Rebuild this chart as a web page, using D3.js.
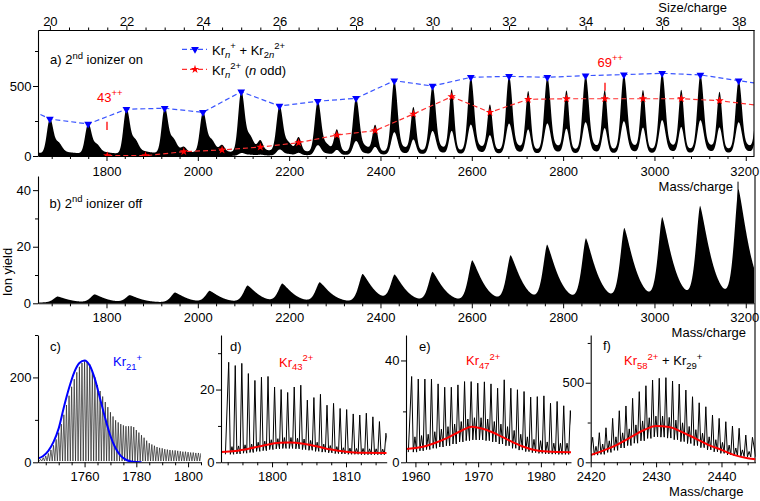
<!DOCTYPE html>
<html><head><meta charset="utf-8">
<script src="https://cdn.jsdelivr.net/npm/d3@7"></script>
<style>
body{margin:0;background:#fff;}
svg text{font-family:"Liberation Sans",Arial,Helvetica,sans-serif;}
</style></head><body>
<svg id="chart" width="760" height="501"></svg>
<script>
// ---------------- DATA ----------------
const KR = 83.8;
const sizeTicks = [20,22,24,26,28,30,32,34,36,38];
const massTicks = [1800,2000,2200,2400,2600,2800,3000,3200];
// panel a: Kr_n+ + Kr_2n^2+ (blue) and Kr_n^2+ n odd (red)
const blueN = [19,20,21,22,23,24,25,26,27,28,29,30,31,32,33,34,35,36,37,38,39];
const blueVals = [396,264,229,334,341,312,459,357,391,412,538,500,562,569,562,574,581,591,579,538,499];
const redN = [43,45,47,49,51,53,55,57,59,61,63,65,67,69,71,73,75,77];
const redVals = [2,2,31,43,64,95,150,181,300,424,312,405,409,409,409,409,395,362];
const baseMass = [1650,1900,2100,2300,2500,2700,2900,3100,3218];
const baseVals = [2,4,10,20,28,33,36,38,38];
const lowMass = [1650,2050,2200,2400,2600,3218];
const lowFrac = [0,0,0.15,0.3,0.4,0.45];
// panel b: 2nd ionizer off
const humpMass = [1693,1774,1851,1950,2026,2109,2185,2267,2361,2431,2514,2601,2685,2765,2850,2934,3017,3100,3184];
const humpVals = [2.1,2.8,2.5,3.5,4.0,5.9,6.5,7.0,10.0,9.4,10.6,14.7,16.4,20.0,22.3,25.9,29.6,33.5,39.4];
const bSpikeMass = [3183];
const bSpikeVals = [43];
// panel c: Kr21+
const cStart = 1742;
const cVals = [5,7,11,15,21,29,40,54,70,90,112,135,157,178,196,212,225,234,238,237,231,215,200,182,168,155,142,130,118,108,99,94,90,87,85,85,85,83,76,70,64,58,51,45,42,39,36,34,33,31,30,29,28,28,27,26,25,25,24,23,23,22,22,21];
const cLow = 3;
const cBlueMass = [1742,1744,1746,1748,1750,1752,1754,1756,1758,1760,1762,1764,1766,1768,1770,1772,1774,1776,1778,1780,1782];
const cBlueVals = [9,15,27,48,80,130,175,212,234,240,228,196,150,103,62,33,15,6,2,0.5,0];
// panel d: Kr43 2+
const dStart = 1794.14, dStep = 0.886;
const dTall = [27.5,26.6,27.2,24.4,22.5,23.4,23.6,20.7,20.0,19.2,20.7,21.2,17.1,17.8,18.7,15.7,16.2,14.8,14.5,13.3,13.0,13.5,12.5,11.2,8.0];
const dSmall = [4.3,4.5,4.8,5.0,5.5,5.8,6.2,6.5,6.8,6.8,6.6,6.4,6.0,5.5,5.0,4.6,4.3,4.0,3.9,3.8,3.8,3.7,3.7,3.6];
const dMin = [2.2,2.3,2.5,2.7,3.0,3.2,3.5,3.7,3.8,3.8,3.7,3.5,3.3,3.0,2.8,2.6,2.4,2.3,2.2,2.2,2.1,2.1,2.1,2.1];
const dRedMass = [1793.1,1795,1797,1799,1801,1802.5,1804,1806,1808,1810,1812,1815.5];
const dRedVals = [2.8,3.1,3.8,4.7,5.35,5.45,5.2,4.4,3.5,2.9,2.6,2.55];
// panel e: Kr47 2+
const eStart = 1959.4, eStep = 1.054;
const eTall = [33.7,32.7,32.7,32.7,30.8,29.5,29.5,30.4,31.7,31.7,31.1,31.6,30.8,29.1,32.4,29.1,28.5,27.8,25.6,25.8,26.1,23.2,23.9,22.2,20.3];
const eSmall = [10,10.5,11,12,13,14,15,16,17,17.5,17.5,17,16,15,14,12.5,11,10,9,8.5,8,7.5,7.5,7.5];
const eMin = [4,4.5,5,5.5,6,6.5,7.2,8,8.5,8.8,8.8,8.5,8,7.2,6.5,5.5,4.8,4.2,3.8,3.5,3.3,3.2,3.1,3.1];
const eRedMass = [1958.5,1961,1963,1965,1967,1969,1971,1973,1975,1977,1979,1981,1984.8];
const eRedVals = [5.2,6,7.5,9.5,12,14,13,11,8.5,6.3,4.8,4.2,3.9];
// panel f: Kr58 2+ + Kr29+
const fStart = 2420.3, fStep = 1.018;
const fTall = [157,186,217,276,324,354,402,444,481,517,528,532,511,492,454,412,374,349,297,276,255,228,214,171,157];
const fSmall = [100,115,135,160,185,210,235,260,280,290,290,282,265,248,225,205,183,160,142,125,108,90,78,68];
const fMin = [45,50,62,75,90,105,120,135,150,160,158,152,142,130,118,105,92,78,66,56,46,40,36,34];
const fRedMass = [2420,2422,2424,2426,2428,2430,2432,2434,2436,2438,2440,2442,2444,2445.2];
const fRedVals = [46,75,110,155,200,228,222,190,150,110,78,45,25,19];

// ---------------- DRAWING ----------------
const svg = d3.select('#chart');
const BLUE = '#0000ff', RED = '#ff0000';

// scales
const xA = d3.scaleLinear([1650,3218],[38,754]);
const sA = d3.scaleLinear([1650/KR,3218/KR],[38,754]);
const yA = d3.scaleLinear([0,900],[156,30]);
const yB = d3.scaleLinear([0,45],[303.3,176]);
const xC = d3.scaleLinear([1742,1805],[38,201]);
const yC = d3.scaleLinear([0,300],[462.3,335]);
const xD = d3.scaleLinear([1793.1,1815.5],[221,386.7]);
const yD = d3.scaleLinear([0,35],[462.3,335]);
const xE = d3.scaleLinear([1958.5,1984.8],[406,571]);
const yE = d3.scaleLinear([0,50],[462.3,335]);
const xF = d3.scaleLinear([2420,2445.2],[590.7,755.5]);
const yF = d3.scaleLinear([0,800],[462.3,335]);

const defs = svg.append('defs');
function clip(id, x0, y0, x1, y1){
  defs.append('clipPath').attr('id',id).append('rect')
    .attr('x',x0).attr('y',y0).attr('width',x1-x0).attr('height',y1-y0);
  return 'url(#'+id+')';
}

// ---- axis helper ----
function drawAxis(kind, scale, tx, ty, majors, minors, opts){
  opts = opts || {};
  const mk = {left:d3.axisLeft, bottom:d3.axisBottom, top:d3.axisTop}[kind];
  const g = svg.append('g').attr('transform',`translate(${tx},${ty})`);
  const ax = mk(scale).tickValues(majors).tickSize(opts.size||5).tickPadding(opts.pad==null?2:opts.pad)
    .tickSizeOuter(0).tickFormat(opts.noLabels ? '' : d3.format('d'));
  g.call(ax);
  if (minors && minors.length){
    const gm = svg.append('g').attr('transform',`translate(${tx},${ty})`);
    gm.call(mk(scale).tickValues(minors).tickSize(opts.msize||3).tickFormat('').tickSizeOuter(0));
    gm.select('.domain').remove();
    gm.selectAll('line').attr('stroke','#000');
  }
  g.selectAll('text').attr('font-size',13).attr('fill','#000')
    .attr('font-family','"Liberation Sans",Arial,sans-serif');
  if (opts.lastDx) g.selectAll('text').filter(d => d === majors[majors.length-1]).attr('dx', opts.lastDx);
  g.selectAll('line').attr('stroke','#000');
  g.select('.domain').attr('stroke','#000').attr('stroke-width',1.1);
  return g;
}
const notIn = (arr, majors) => arr.filter(v => !majors.some(m => Math.abs(m-v)<1e-6));

// ---- rich text helper ----
function rich(x, y, parts, color, anchor){
  const t = svg.append('text').attr('x',x).attr('y',y).attr('font-size',13)
    .attr('fill',color||'#000').attr('text-anchor',anchor||'start');
  let cur = 0;
  parts.forEach(p => {
    if (typeof p === 'string') p = {t:p};
    const shift = p.sup ? -5.5 : (p.sub ? 3.5 : 0);
    const ts = t.append('tspan').text(p.t).attr('dy', shift - cur);
    cur = shift;
    if (p.sup || p.sub) ts.attr('font-size', 9.5);
    if (p.i) ts.attr('font-style','italic');
    if (p.c) ts.attr('fill', p.c);
  });
  return t;
}

// ================= PANEL A =================
const baseA = d3.scaleLinear(baseMass, baseVals).clamp(true);
const lowA = d3.scaleLinear(lowMass, lowFrac).clamp(true);
function shapeS(d, n){
  const g = Math.exp(-d*d/(2*6.5*6.5));
  if (d <= 0) return g;
  const w = Math.max(0, Math.min(0.25, (29-n)*0.05));
  const sh = w*Math.exp(-(d-18)*(d-18)/(2*8*8));
  const td = n < 26 ? 70 : 40;
  const tail = 0.12*Math.exp(-d/td)*(1-Math.exp(-d*d/40));
  return g + sh + tail;
}
function shapeD(d){ return Math.exp(-d*d/(2*5.5*5.5)); }
const hBlue = blueN.map((n,i) => blueVals[i] - baseA(n*KR));
function upperA(m){
  let u = baseA(m);
  blueN.forEach((n,i) => { const d = m - n*KR; if (d > -60 && d < 300) u += hBlue[i]*shapeS(d, n); });
  redN.forEach((n,i) => { const d = m - n*KR/2; if (Math.abs(d) < 40) u += redVals[i]*shapeD(d); });
  return u;
}
for (let it=0; it<4; it++){
  blueN.forEach((n,i) => { hBlue[i] += blueVals[i] - upperA(n*KR); });
}
const msA = d3.range(1650, 3218.01, 0.5);
const clipA = clip('cA', 38, 30, 754, 156);
svg.append('path').attr('clip-path', clipA)
  .datum(msA)
  .attr('fill','#000')
  .attr('d', d3.area().x(m => xA(m)).y1(m => yA(upperA(m))).y0(m => yA(lowA(m)*upperA(m))));

// marker lines
const blueData = blueN.map((n,i) => [n*KR, blueVals[i]]);
const redData = redN.map((n,i) => [n*KR/2, redVals[i]]);
const gA = svg.append('g').attr('clip-path', clipA);
gA.append('path').datum(redData).attr('fill','none').attr('stroke','#ff3030').attr('stroke-width',1.2)
  .attr('stroke-dasharray','5,3').attr('d', d3.line().x(d=>xA(d[0])).y(d=>yA(d[1])));
gA.append('path').datum(blueData).attr('fill','none').attr('stroke','#3a55ff').attr('stroke-width',1.2)
  .attr('stroke-dasharray','5,3').attr('d', d3.line().x(d=>xA(d[0])).y(d=>yA(d[1])));
gA.selectAll('.rs').data(redData).join('path')
  .attr('transform', d => `translate(${xA(d[0])},${yA(d[1])})`)
  .attr('d', d3.symbol(d3.symbolStar, 22)).attr('fill', RED);
gA.selectAll('.bt').data(blueData).join('path')
  .attr('transform', d => `translate(${xA(d[0])},${yA(d[1])}) rotate(180)`)
  .attr('d', d3.symbol(d3.symbolTriangle, 26)).attr('fill', BLUE);

// axes panel a
drawAxis('left', yA, 38, 0, [0,500], [250,750], {pad:1.5});
drawAxis('bottom', xA, 0, 156, massTicks, notIn(d3.range(1680,3218,40), massTicks), {pad:5.8, lastDx:-1.5});
drawAxis('top', sA, 0, 30, sizeTicks, notIn(d3.range(20,38.3,0.5), sizeTicks), {size:4, msize:2.5, pad:0});
svg.append('line').attr('x1',754).attr('x2',754).attr('y1',30).attr('y2',156).attr('stroke','#000').attr('stroke-width',1.1);

// legend
svg.append('line').attr('x1',182).attr('x2',207).attr('y1',49.3).attr('y2',49.3)
  .attr('stroke','#3a55ff').attr('stroke-width',1.2).attr('stroke-dasharray','5,3');
svg.append('path').attr('transform','translate(195,49.3) rotate(180)').attr('d', d3.symbol(d3.symbolTriangle,26)).attr('fill',BLUE);
svg.append('line').attr('x1',182).attr('x2',207).attr('y1',69.3).attr('y2',69.3)
  .attr('stroke','#ff3030').attr('stroke-width',1.2).attr('stroke-dasharray','5,3');
svg.append('path').attr('transform','translate(195,69.3)').attr('d', d3.symbol(d3.symbolStar,22)).attr('fill',RED);
rich(212, 54.5, ['Kr',{t:'n',sub:1,i:1},{t:'+',sup:1},' + Kr',{t:'2',sub:1},{t:'n',sub:1,i:1},{t:'2+',sup:1}]);
rich(212, 74.5, ['Kr',{t:'n',sub:1,i:1},{t:'2+',sup:1},' (',{t:'n',i:1},' odd)']);

rich(50, 64, ['a) 2',{t:'nd',sup:1},' ionizer on']);
rich(97, 101.5, ['43',{t:'++',sup:1}], RED);
svg.append('line').attr('x1',107).attr('x2',107).attr('y1',121.7).attr('y2',130).attr('stroke',RED).attr('stroke-width',1.3);
rich(597.5, 66.5, ['69',{t:'++',sup:1}], RED);
svg.append('line').attr('x1',605).attr('x2',605).attr('y1',82.7).attr('y2',90.7).attr('stroke',RED).attr('stroke-width',1.3);
svg.append('text').attr('x',727).attr('y',11.5).attr('text-anchor','end').attr('font-size',13).text('Size/charge');
svg.append('text').attr('x',733).attr('y',190.5).attr('text-anchor','end').attr('font-size',13).text('Mass/charge');

// ================= PANEL B =================
function humpShape(d){ return d < 0 ? Math.exp(-Math.pow(-d/13, 1.6)) : Math.exp(-Math.pow(d/30, 1.3)); }
function upperB(m){
  let u = 0.3;
  humpMass.forEach((c,i) => { const d = m - c; if (Math.abs(d) < 200) u += humpVals[i]*humpShape(d); });
  return u;
}
const clipB = clip('cB', 38, 170, 755, 303.3);
svg.append('path').attr('clip-path', clipB).datum(msA).attr('fill','#000')
  .attr('d', d3.area().x(m => xA(m)).y0(yB(0)).y1(m => yB(upperB(m))));
svg.append('g').attr('clip-path', clipB).selectAll('line').data(bSpikeMass).join('line')
  .attr('x1', m => xA(m)).attr('x2', m => xA(m)).attr('y1', yB(0))
  .attr('y2', (m,i) => yB(bSpikeVals[i])).attr('stroke','#000').attr('stroke-width',1);
drawAxis('left', yB, 38, 0, [0,20,40], [10,30], {pad:2});
drawAxis('bottom', xA, 0, 303.3, massTicks, notIn(d3.range(1680,3218,40), massTicks), {pad:4.5, lastDx:-1.5});
svg.append('line').attr('x1',755).attr('x2',755).attr('y1',176).attr('y2',462.3).attr('stroke','#000').attr('stroke-width',1.1);
rich(49.5, 207.5, ['b) 2',{t:'nd',sup:1},' ionizer off']);
svg.append('text').attr('x',746).attr('y',337).attr('text-anchor','end').attr('font-size',13).text('Mass/charge');
svg.append('text').attr('transform','translate(12,272) rotate(-90)').attr('text-anchor','middle').attr('font-size',13).text('Ion yield');

// ================= PANEL C =================
const cPts = [[cStart-0.5, cLow]];
cVals.forEach((v,i) => { cPts.push([cStart+i, v]); cPts.push([cStart+i+0.5, cLow]); });
const clipC = clip('cC', 38, 330, 201, 462.3);
svg.append('path').attr('clip-path', clipC).datum(cPts).attr('fill','none').attr('stroke','#222').attr('stroke-width',0.7)
  .attr('d', d3.line().x(d=>xC(d[0])).y(d=>yC(d[1])));
svg.append('path').attr('clip-path', clipC).datum(cBlueMass.map((m,i)=>[m,cBlueVals[i]]))
  .attr('fill','none').attr('stroke',BLUE).attr('stroke-width',2)
  .attr('d', d3.line().x(d=>xC(d[0])).y(d=>yC(d[1])).curve(d3.curveMonotoneX));
drawAxis('left', yC, 38, 0, [0,200], [100,300], {pad:1.5});
drawAxis('bottom', xC, 0, 462.3, [1760,1780,1800], notIn(d3.range(1745,1806,5),[1760,1780,1800]), {pad:4.8});
rich(50, 351, ['c)']);
rich(113, 366, ['Kr',{t:'21',sub:1},{t:'+',sup:1}], BLUE);

// ---- comb helper for d,e,f ----
function combPts(start, step, tall, small, mins){
  const pts = [[start - 0.5*step, mins[0]]];
  tall.forEach((t,i) => {
    const m = start + i*step;
    pts.push([m, t]);
    if (i < small.length){
      pts.push([m + 0.25*step, mins[i]]);
      pts.push([m + 0.5*step, small[i]]);
      pts.push([m + 0.75*step, mins[i]]);
    }
  });
  pts.push([start + (tall.length-0.5)*step, mins[mins.length-1]]);
  return pts;
}
function zoomPanel(id, xs, ys, start, step, tall, small, mins, redM, redV, x0, x1){
  const cp = clip(id, x0, 330, x1, 462.3);
  svg.append('path').attr('clip-path', cp).datum(combPts(start, step, tall, small, mins))
    .attr('fill','none').attr('stroke','#000').attr('stroke-width',1)
    .attr('d', d3.line().x(d=>xs(d[0])).y(d=>ys(d[1])));
  svg.append('path').attr('clip-path', cp).datum(redM.map((m,i)=>[m,redV[i]]))
    .attr('fill','none').attr('stroke',RED).attr('stroke-width',2)
    .attr('d', d3.line().x(d=>xs(d[0])).y(d=>ys(d[1])).curve(d3.curveMonotoneX));
}

// ================= PANEL D =================
zoomPanel('cD', xD, yD, dStart, dStep, dTall, dSmall, dMin, dRedMass, dRedVals, 221, 386.7);
drawAxis('left', yD, 221, 0, [0,20], [10,30], {pad:1.5});
drawAxis('bottom', xD, 0, 462.3, [1800,1810], notIn(d3.range(1794,1816,2),[1800,1810]), {pad:4.8});
rich(230, 351, ['d)']);
rich(279, 366.5, ['Kr',{t:'43',sub:1},{t:'2+',sup:1}], RED);

// ================= PANEL E =================
zoomPanel('cE', xE, yE, eStart, eStep, eTall, eSmall, eMin, eRedMass, eRedVals, 406, 571);
drawAxis('left', yE, 406, 0, [0,40], [20], {pad:1.5});
drawAxis('bottom', xE, 0, 462.3, [1960,1970,1980], notIn(d3.range(1960,1985,2),[1960,1970,1980]), {pad:4.8});
rich(419, 351, ['e)']);
rich(466, 365, ['Kr',{t:'47',sub:1},{t:'2+',sup:1}], RED);

// ================= PANEL F =================
zoomPanel('cF', xF, yF, fStart, fStep, fTall, fSmall, fMin, fRedMass, fRedVals, 590.7, 755.5);
drawAxis('left', yF, 590.7, 0, [0,500], [250,750], {pad:1.5});
drawAxis('bottom', xF, 0, 462.3, [2420,2430,2440], notIn(d3.range(2422,2446,2),[2420,2430,2440]), {pad:4.8});
rich(603, 350, ['f)']);
rich(624, 365, [{t:'Kr',c:RED},{t:'58',sub:1,c:RED},{t:'2+',sup:1,c:RED},' + Kr',{t:'29',sub:1},{t:'+',sup:1}]);
svg.append('text').attr('x',743.5).attr('y',496).attr('text-anchor','end').attr('font-size',13).text('Mass/charge');
</script>
</body></html>
